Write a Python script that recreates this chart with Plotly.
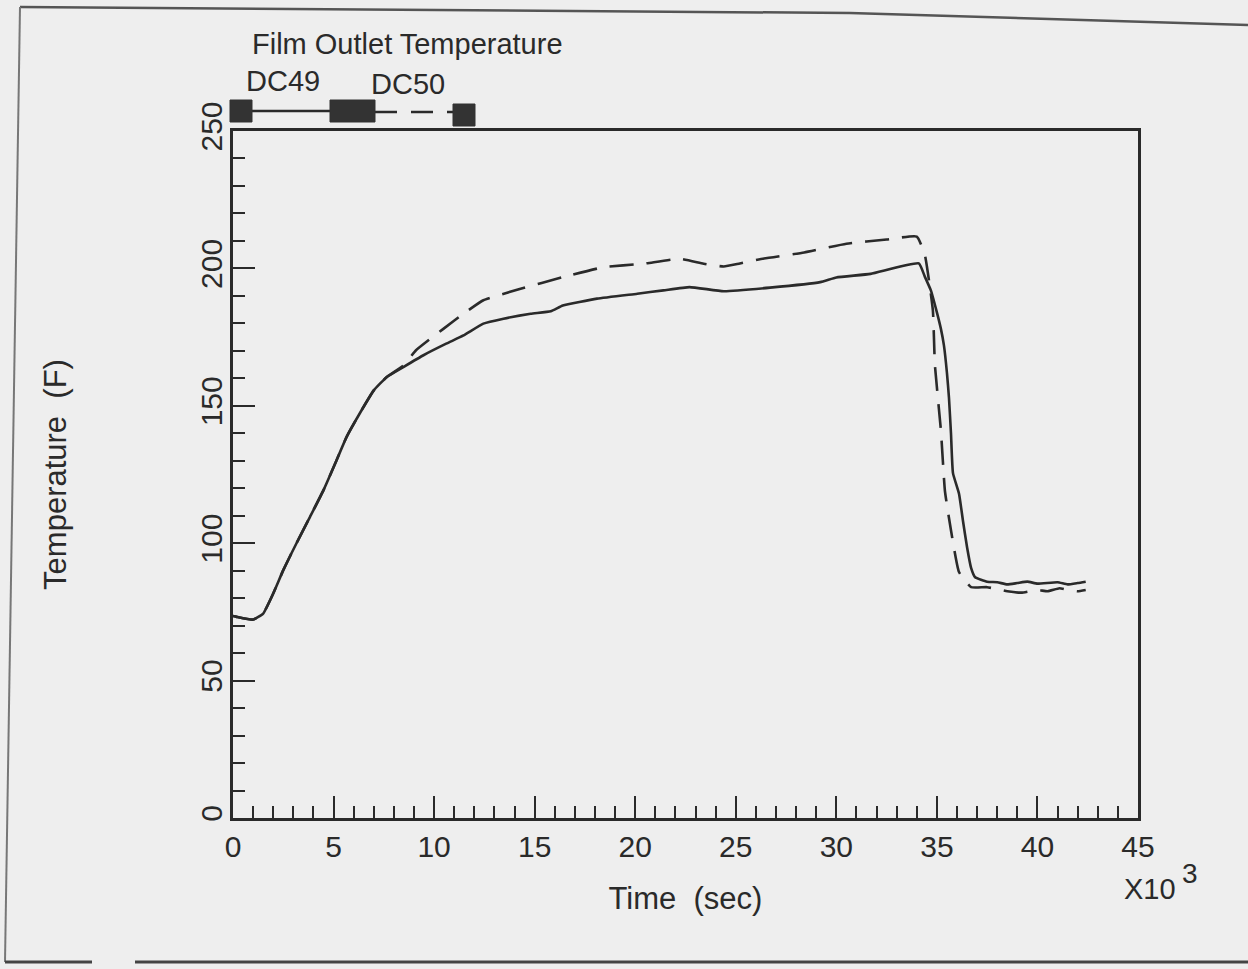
import plotly.graph_objects as go

# ---- data (time in thousands of seconds, temperature in F) ----
dc49_time = [0.0, 0.18, 1.0, 1.5, 2.0, 2.5, 3.15, 3.83, 4.5, 5.15, 5.65, 6.3, 7.0, 7.65,
             8.47, 9.47, 10.6, 11.46, 12.45, 13.45, 14.8, 15.8, 16.4, 18.1, 20.1, 21.4,
             22.7, 24.4, 26.7, 29.2, 30.0, 31.7, 34.1, 34.4, 34.7, 35.0, 35.2, 35.35,
             35.5, 35.6, 35.7, 35.8, 36.1, 36.3, 36.5, 36.7, 36.9, 37.5, 38.0, 38.5,
             39.0, 39.5, 40.0, 41.0, 41.5, 42.0, 42.4]
dc49_temp = [73.5, 73.2, 72.2, 74.4, 81.7, 90.2, 99.9, 109.6, 119.3, 130.2, 138.7, 147.2,
             155.6, 160.5, 164.1, 168.4, 172.6, 175.6, 179.9, 181.7, 183.5, 184.4, 186.5,
             189.0, 190.8, 192.0, 193.2, 191.7, 193.0, 195.0, 196.7, 198.0, 201.8, 197.0,
             192.0, 184.0, 178.0, 172.0, 162.0, 153.0, 140.0, 125.5, 118.0, 108.0, 98.5,
             91.0, 87.6, 86.0, 85.8, 85.0, 85.5, 86.0, 85.3, 85.8, 85.0, 85.5, 86.0]

dc50_time = [0.0, 0.18, 1.0, 1.5, 2.0, 2.5, 3.15, 3.83, 4.5, 5.15, 5.65, 6.3, 7.0, 7.65,
             8.47, 9.1, 10.46, 11.46, 12.45, 14.3, 16.4, 18.4, 20.4, 22.2, 23.4, 24.4,
             25.2, 26.4, 28.4, 30.5, 32.5, 34.0, 34.4, 34.8, 34.9, 35.2, 35.4, 35.7,
             36.1, 36.7, 37.5, 38.5, 39.2, 40.0, 40.5, 41.1, 41.5, 42.0, 42.4]
dc50_temp = [73.5, 73.2, 72.2, 74.4, 81.7, 90.2, 99.9, 109.6, 119.3, 130.2, 138.7, 147.2,
             155.6, 160.5, 164.6, 170.2, 178.0, 183.5, 188.4, 192.6, 196.8, 200.4, 201.7,
             203.5, 201.7, 200.7, 201.8, 203.6, 205.8, 209.0, 210.5, 211.6, 205.0, 184.7,
             165.0, 141.0, 119.0, 104.7, 89.5, 84.0, 84.0, 82.5, 82.0, 83.0, 82.5, 83.6,
             83.0, 82.5, 83.0]

x_ticks = [0, 5, 10, 15, 20, 25, 30, 35, 40, 45]
y_ticks = [0, 50, 100, 150, 200, 250]

FONT = "Liberation Sans Narrow, Arial Narrow, Liberation Sans, Arial, sans-serif"
INK = "#2a2a2a"
BG = "#eeeeee"

# plot-area geometry in pixels
W, H = 1248, 969
L, R, T, B = 233, 1138, 131, 818


def px(x):
    return (x - L) / (R - L)


def py(y):
    return (B - y) / (B - T)


fig = go.Figure()
fig.add_trace(go.Scatter(x=dc49_time, y=dc49_temp, mode="lines", name="DC49",
                         line=dict(color=INK, width=2.6, shape="spline", smoothing=0.4),
                         showlegend=False))
fig.add_trace(go.Scatter(x=dc50_time, y=dc50_temp, mode="lines", name="DC50",
                         line=dict(color=INK, width=2.6, dash="24px,13px",
                                   shape="spline", smoothing=0.4),
                         showlegend=False))

shapes = []
# legend sample (drawn like the original)
shapes.append(dict(type="line", xref="paper", yref="paper", x0=px(252), x1=px(330),
                   y0=py(111), y1=py(111), line=dict(color=INK, width=2.4)))
shapes.append(dict(type="line", xref="paper", yref="paper", x0=px(375), x1=px(453),
                   y0=py(112), y1=py(112), line=dict(color=INK, width=2.4, dash="22px,14px")))
for (a, b, c, d) in [(230, 252, 100, 122), (330, 375, 100, 122), (453, 475, 104, 126)]:
    shapes.append(dict(type="rect", xref="paper", yref="paper", x0=px(a), x1=px(b),
                       y0=py(d), y1=py(c), fillcolor="#333333",
                       line=dict(color="#333333", width=1)))
# scanned page border
shapes.append(dict(type="path", xref="paper", yref="paper",
                   path=f"M {px(20)} {py(7)} L {px(850)} {py(13)} L {px(1248)} {py(25)}",
                   line=dict(color="#555555", width=2.5)))
shapes.append(dict(type="line", xref="paper", yref="paper", x0=px(20), x1=px(5),
                   y0=py(7), y1=py(962), line=dict(color="#777777", width=2)))
shapes.append(dict(type="line", xref="paper", yref="paper", x0=px(5), x1=px(92),
                   y0=py(962), y1=py(962), line=dict(color="#444444", width=3)))
shapes.append(dict(type="line", xref="paper", yref="paper", x0=px(135), x1=px(1248),
                   y0=py(962), y1=py(962), line=dict(color="#444444", width=3)))

annotations = [
    dict(text="Film Outlet Temperature", xref="paper", yref="paper", x=px(250), y=py(44),
         xanchor="left", yanchor="middle", showarrow=False,
         font=dict(family=FONT, size=29, color=INK)),
    dict(text="DC49", xref="paper", yref="paper", x=px(244), y=py(81),
         xanchor="left", yanchor="middle", showarrow=False,
         font=dict(family=FONT, size=29, color=INK)),
    dict(text="DC50", xref="paper", yref="paper", x=px(369), y=py(84),
         xanchor="left", yanchor="middle", showarrow=False,
         font=dict(family=FONT, size=29, color=INK)),
    dict(text="X10", xref="paper", yref="paper", x=px(1122), y=py(889),
         xanchor="left", yanchor="middle", showarrow=False,
         font=dict(family=FONT, size=29, color=INK)),
    dict(text="3", xref="paper", yref="paper", x=px(1180), y=py(873),
         xanchor="left", yanchor="middle", showarrow=False,
         font=dict(family=FONT, size=28, color=INK)),
]

fig.update_layout(
    width=W, height=H,
    margin=dict(l=L, r=W - R, t=T, b=H - B, pad=0),
    paper_bgcolor=BG, plot_bgcolor=BG,
    shapes=shapes, annotations=annotations,
    showlegend=False,
)

fig.update_xaxes(
    range=[0, 45], tickvals=x_ticks, ticktext=[str(v) for v in x_ticks],
    showgrid=False, zeroline=False, showline=True, mirror=True,
    linecolor=INK, linewidth=2.5,
    ticks="inside", ticklen=22, tickwidth=2.2, tickcolor=INK,
    minor=dict(ticks="inside", dtick=1, ticklen=12, tickwidth=2, tickcolor=INK),
    tickfont=dict(family=FONT, size=30, color=INK),
    title=dict(text="Time  (sec)", font=dict(family=FONT, size=31, color=INK), standoff=26),
)
fig.update_yaxes(
    range=[0, 250], tickvals=y_ticks, ticktext=[str(v) for v in y_ticks],
    showgrid=False, zeroline=False, showline=True, mirror=True,
    linecolor=INK, linewidth=2.5,
    ticks="inside", ticklen=22, tickwidth=2.2, tickcolor=INK,
    minor=dict(ticks="inside", dtick=10, ticklen=12, tickwidth=2, tickcolor=INK),
    tickangle=-90, ticklabelstandoff=-4,
    tickfont=dict(family=FONT, size=30, color=INK),
    title=dict(text="Temperature  (F)", font=dict(family=FONT, size=31, color=INK), standoff=120),
)

fig.write_html("out.html")
